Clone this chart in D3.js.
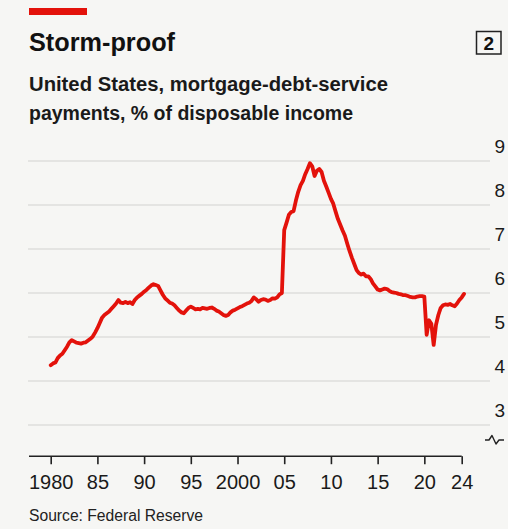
<!DOCTYPE html>
<html>
<head>
<meta charset="utf-8">
<script src="https://cdn.jsdelivr.net/npm/d3@7/dist/d3.min.js"></script>
<style>
  html, body { margin: 0; padding: 0; background: #f6f6f4; }
  svg { display: block; }
  text { font-family: "Liberation Sans", Arial, sans-serif; }
</style>
</head>
<body>
<svg id="chart" width="508" height="529"></svg>
<script>
// ---- Data ----
const years = [1980,1981,1982,1983,1984,1985,1986,1987,1988,1989,
               1990,1991,1992,1993,1994,1995,1996,1997,1998,1999,
               2000,2001,2002,2003,2004,2005,2006,2007,2008,2009,
               2010,2011,2012,2013,2014,2015,2016,2017,2018,2019,
               2020,2021,2022,2023,2024];
// quarterly mortgage-debt-service payments, % of disposable income
const quarterlyValues = [
  [4.36,4.40,4.42,4.52], // 1980
  [4.58,4.62,4.70,4.78], // 1981
  [4.88,4.93,4.90,4.87], // 1982
  [4.86,4.85,4.87,4.88], // 1983
  [4.92,4.96,5.01,5.10], // 1984
  [5.20,5.32,5.44,5.50], // 1985
  [5.54,5.58,5.64,5.70], // 1986
  [5.76,5.84,5.78,5.77], // 1987
  [5.80,5.77,5.79,5.75], // 1988
  [5.84,5.90,5.94,5.98], // 1989
  [6.03,6.07,6.12,6.17], // 1990
  [6.20,6.18,6.16,6.06], // 1991
  [5.96,5.88,5.83,5.78], // 1992
  [5.76,5.72,5.66,5.60], // 1993
  [5.56,5.54,5.60,5.66], // 1994
  [5.69,5.66,5.63,5.64], // 1995
  [5.63,5.66,5.65,5.64], // 1996
  [5.66,5.67,5.64,5.60], // 1997
  [5.58,5.54,5.50,5.48], // 1998
  [5.50,5.56,5.60,5.62], // 1999
  [5.65,5.68,5.70,5.73], // 2000
  [5.76,5.78,5.82,5.90], // 2001
  [5.86,5.80,5.84,5.86], // 2002
  [5.85,5.82,5.84,5.88], // 2003
  [5.87,5.90,5.97,6.00], // 2004
  [7.43,7.60,7.78,7.84], // 2005
  [7.86,8.10,8.30,8.45], // 2006
  [8.55,8.70,8.82,8.95], // 2007
  [8.88,8.66,8.78,8.82], // 2008
  [8.75,8.55,8.42,8.28], // 2009
  [8.14,8.03,7.85,7.68], // 2010
  [7.55,7.42,7.30,7.12], // 2011
  [6.95,6.80,6.66,6.52], // 2012
  [6.45,6.42,6.44,6.38], // 2013
  [6.38,6.32,6.22,6.15], // 2014
  [6.08,6.06,6.08,6.10], // 2015
  [6.09,6.05,6.02,6.01], // 2016
  [6.00,5.98,5.97,5.95], // 2017
  [5.95,5.93,5.91,5.90], // 2018
  [5.90,5.92,5.93,5.93], // 2019
  [5.92,5.05,5.38,5.30], // 2020
  [4.82,5.28,5.50,5.66], // 2021
  [5.72,5.74,5.73,5.75], // 2022
  [5.72,5.70,5.76,5.84], // 2023
  [5.90,5.98]            // 2024
];
const xTickValues = [1980,1985,1990,1995,2000,2005,2010,2015,2020,2024];
const xTickLabels = ["1980","85","90","95","2000","05","10","15","20","24"];
const yTickValues = [3,4,5,6,7,8,9];

const title = "Storm-proof";
const subtitleLines = ["United States, mortgage-debt-service", "payments, % of disposable income"];
const source = "Source: Federal Reserve";
const chartNumber = "2";

// ---- Build series ----
const series = [];
years.forEach((yr, i) => {
  quarterlyValues[i].forEach((v, q) => series.push({ t: yr + q / 4, v: v }));
});

// ---- Drawing ----
const svg = d3.select("#chart");
const RED = "#e3120b";

const x = d3.scaleLinear().domain([1980, 2024]).range([50.7, 461.7]);
const y = d3.scaleLinear().domain([3, 9]).range([425, 161]);

// header
svg.append("rect").attr("x", 29).attr("y", 8).attr("width", 58).attr("height", 7).attr("fill", RED);
svg.append("text").attr("x", 29).attr("y", 51)
  .attr("font-size", 26).attr("font-weight", "bold").attr("fill", "#111")
  .attr("textLength", 146).attr("lengthAdjust", "spacingAndGlyphs")
  .text(title);
svg.append("rect").attr("x", 476.5).attr("y", 31.5).attr("width", 24.5).attr("height", 22.5)
  .attr("fill", "none").attr("stroke", "#222").attr("stroke-width", 1.5);
svg.append("text").attr("x", 488.8).attr("y", 50).attr("text-anchor", "middle")
  .attr("font-size", 19).attr("font-weight", "bold").attr("fill", "#111").text(chartNumber);

const subLens = [359, 324];
subtitleLines.forEach((s, i) => {
  svg.append("text").attr("x", 29).attr("y", 91 + i * 29)
    .attr("font-size", 20).attr("font-weight", "bold").attr("fill", "#1a1a1a")
    .attr("textLength", subLens[i]).attr("lengthAdjust", "spacingAndGlyphs")
    .text(s);
});

// gridlines
svg.append("g").selectAll("line").data(yTickValues).join("line")
  .attr("x1", 28).attr("x2", 490)
  .attr("y1", d => y(d)).attr("y2", d => y(d))
  .attr("stroke", "#d2d2d0").attr("stroke-width", 1.2);

// y labels
svg.append("g").selectAll("text").data(yTickValues).join("text")
  .attr("x", 505).attr("y", d => y(d) - 8)
  .attr("text-anchor", "end").attr("font-size", 19).attr("fill", "#1a1a1a")
  .text(d => d);

// axis break symbol
svg.append("path")
  .attr("d", "M485,440 L489,440 L492,435.5 L496,444 L499,440 L504,440")
  .attr("fill", "none").attr("stroke", "#222").attr("stroke-width", 1.4)
  .attr("stroke-linejoin", "round");

// x axis
const axisY = 456.2;
svg.append("line").attr("x1", 29).attr("x2", x(2024)).attr("y1", axisY).attr("y2", axisY)
  .attr("stroke", "#222").attr("stroke-width", 1.5);
const xAxis = d3.axisBottom(x).tickValues(xTickValues).tickSize(8).tickSizeOuter(0)
  .tickFormat((d, i) => xTickLabels[i]);
const gx = svg.append("g").attr("transform", `translate(0,${axisY})`).call(xAxis);
gx.select(".domain").remove();
gx.selectAll(".tick line").attr("stroke", "#222").attr("stroke-width", 1.6);
gx.selectAll(".tick text").attr("y", 33).attr("dy", null)
  .attr("font-size", 20).attr("fill", "#1a1a1a")
  .attr("font-family", "'Liberation Sans', Arial, sans-serif");

// line
const line = d3.line().x(d => x(d.t)).y(d => y(d.v));
svg.append("path").datum(series)
  .attr("d", line)
  .attr("fill", "none").attr("stroke", RED).attr("stroke-width", 3.8)
  .attr("stroke-linejoin", "round").attr("stroke-linecap", "round");

// source
svg.append("text").attr("x", 29).attr("y", 521)
  .attr("font-size", 16).attr("fill", "#222")
  .attr("textLength", 174).attr("lengthAdjust", "spacingAndGlyphs")
  .text(source);
</script>
</body>
</html>
